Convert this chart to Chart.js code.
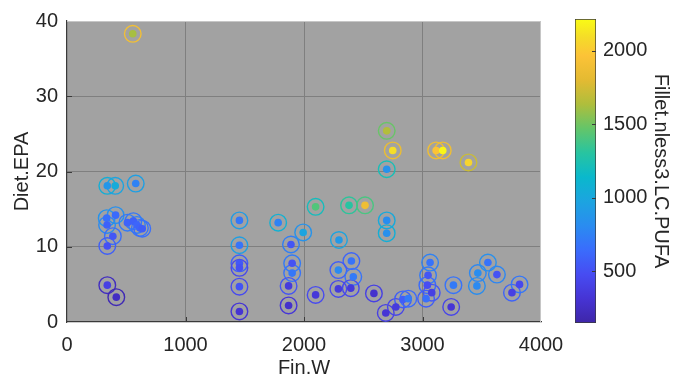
<!DOCTYPE html>
<html>
<head>
<meta charset="utf-8">
<script src="https://cdn.jsdelivr.net/npm/chart.js@4.4.1/dist/chart.umd.min.js"></script>
<style>
  html, body { margin: 0; padding: 0; background: #ffffff; }
  #wrap { position: relative; width: 686px; height: 390px; }
  #wrap canvas { position: absolute; left: 0; top: 0; }
</style>
</head>
<body>
<div id="wrap">
  <canvas id="main" width="686" height="390"></canvas>
  <canvas id="cbar" width="686" height="390"></canvas>
</div>
<script>
// Fish weight vs. dietary EPA; filled dot and ring are each coloured on the PUFA scale
const finW = [
  555,
  340, 407, 580,
  335, 338, 410, 387, 340, 340, 416,
  510, 560, 590, 615, 635,
  1455, 1455, 1455, 1455, 1455, 1455,
  1890, 1900, 1900, 1870, 1870,
  1782, 1993, 2098, 2098,
  2295, 2698, 2698, 2400, 2290, 2416, 2290, 2395, 2590, 2690, 2775, 2835, 2880,
  3064, 3047, 3041, 3078, 3030, 3242, 3261, 3459, 3467, 3552, 3628, 3755, 3819,
  2698, 2749, 2698, 3115, 3171, 3388, 2380, 2515
];
const dietEPA = [
  38.3,
  18.1, 18.1, 18.4,
  13.8, 12.9, 14.2, 11.4, 10.1, 4.9, 3.3,
  13.2, 13.4, 12.9, 12.5, 12.4,
  13.5, 10.2, 7.8, 7.2, 4.7, 1.4,
  10.3, 7.8, 6.5, 4.8, 2.2,
  13.2, 11.9, 15.3, 3.6,
  10.9, 11.8, 13.5, 8.1, 6.9, 6.0, 4.4, 4.5, 3.8, 1.2, 2.0, 3.0, 3.1,
  7.9, 6.2, 4.9, 3.9, 3.1, 2.0, 4.9, 4.8, 6.5, 7.9, 6.3, 3.9, 5.0,
  25.4, 22.8, 20.3, 22.8, 22.8, 21.2, 15.5, 15.5
];
// value behind each filled dot
const pufa = [
  1620,
  880, 1030, 760,
  660, 590, 640, 530, 500, 400, 250,
  600, 590, 610, 600, 570,
  700, 690, 540, 500, 520, 310,
  530, 510, 700, 360, 280,
  760, 980, 1420, 340,
  900, 840, 820, 680, 800, 720, 360, 350, 290, 320, 360, 570, 720,
  680, 530, 480, 400, 660, 320, 720, 800, 820, 680, 510, 400, 450,
  1650, 2100, 850, 1960, 2200, 2050, 1300, 1880
];
// value behind each surrounding ring
const ringLevel = [
  1900,
  1060, 980, 940,
  860, 800, 840, 660, 580, 240, 200,
  720, 700, 740, 680, 660,
  920, 940, 580, 450, 470, 320,
  740, 720, 680, 520, 330,
  1080, 860, 1200, 470,
  980, 1060, 1020, 610, 570, 680, 450, 450, 400, 400, 430, 580, 640,
  760, 720, 640, 530, 570, 430, 680, 820, 790, 840, 780, 600, 700,
  1480, 1850, 1220, 1880, 1880, 1720, 1320, 1400
];
const xTicks = [0, 1000, 2000, 3000, 4000];
const yTicks = [0, 10, 20, 30, 40];
const cbarTicks = [500, 1000, 1500, 2000];
const cMin = 150, cMax = 2215;

const FONT = 'Liberation Sans, Arial, Helvetica, sans-serif';
const TXT = '#262626';

// parula-style colour ramp
const parulaStops = [
  [0.00, 62, 38, 168],
  [0.08, 70, 52, 212],
  [0.16, 71, 76, 242],
  [0.24, 58, 108, 252],
  [0.32, 42, 140, 240],
  [0.40, 28, 164, 224],
  [0.48, 10, 184, 204],
  [0.56, 40, 196, 160],
  [0.64, 100, 197, 105],
  [0.72, 175, 190, 60],
  [0.80, 228, 186, 50],
  [0.88, 252, 195, 55],
  [0.94, 245, 220, 40],
  [1.00, 249, 251, 21]
];
function parula(v) {
  let t = (v - cMin) / (cMax - cMin);
  t = Math.max(0, Math.min(1, t));
  for (let i = 1; i < parulaStops.length; i++) {
    const a = parulaStops[i - 1], b = parulaStops[i];
    if (t <= b[0]) {
      const f = (t - a[0]) / (b[0] - a[0]);
      const c = [1, 2, 3].map(k => Math.round(a[k] + (b[k] - a[k]) * f));
      return `rgb(${c[0]},${c[1]},${c[2]})`;
    }
  }
  return 'rgb(249,251,21)';
}

const points = finW.map((x, i) => ({ x: x, y: dietEPA[i] }));
const plainNumber = v => String(v);

// grey plot box, light top/right frame and inward tick marks
const boxPlugin = {
  id: 'box',
  beforeDraw(chart) {
    const { ctx, chartArea: a } = chart;
    ctx.save();
    ctx.fillStyle = '#a2a2a2';
    ctx.fillRect(a.left, a.top, a.right - a.left, a.bottom - a.top);
    ctx.restore();
  },
  beforeDatasetsDraw(chart) {
    const { ctx, chartArea: a, scales } = chart;
    ctx.save();
    ctx.strokeStyle = '#c6c6c6';
    ctx.lineWidth = 1;
    ctx.beginPath();
    ctx.moveTo(a.left, a.top + 0.5); ctx.lineTo(a.right, a.top + 0.5);
    ctx.moveTo(a.right - 0.5, a.top); ctx.lineTo(a.right - 0.5, a.bottom);
    ctx.stroke();
    ctx.strokeStyle = '#3a3a3a';
    ctx.beginPath();
    xTicks.slice(1, -1).forEach(v => {
      const px = Math.round(scales.x.getPixelForValue(v)) + 0.5;
      ctx.moveTo(px, a.bottom); ctx.lineTo(px, a.bottom - 5);
    });
    yTicks.slice(1, -1).forEach(v => {
      const py = Math.round(scales.y.getPixelForValue(v)) + 0.5;
      ctx.moveTo(a.left, py); ctx.lineTo(a.left + 5, py);
    });
    ctx.stroke();
    ctx.restore();
  }
};

function gridColor(ctx, last) {
  const v = ctx.tick ? ctx.tick.value : null;
  if (v === 0) return 'rgba(0,0,0,0)';
  if (v === last) return 'rgba(0,0,0,0)';
  return '#7f7f7f';
}

new Chart(document.getElementById('main'), {
  type: 'scatter',
  data: {
    datasets: [
      {
        label: 'dot',
        data: points,
        pointRadius: 3.8,
        pointBorderWidth: 0,
        pointBackgroundColor: pufa.map(parula),
        pointBorderColor: 'rgba(0,0,0,0)'
      },
      {
        label: 'ring',
        data: points,
        pointRadius: 8.3,
        pointBorderWidth: 1.4,
        pointBackgroundColor: 'rgba(0,0,0,0)',
        pointBorderColor: ringLevel.map(parula)
      }
    ]
  },
  options: {
    responsive: false,
    animation: false,
    devicePixelRatio: 1,
    layout: { padding: { left: 0, top: 10, right: 145, bottom: 0 } },
    plugins: { legend: { display: false }, tooltip: { enabled: false } },
    scales: {
      x: {
        type: 'linear', min: 0, max: 4000,
        afterBuildTicks: s => { s.ticks = xTicks.map(v => ({ value: v })); },
        grid: { color: c => gridColor(c, 4000), lineWidth: 1, drawTicks: false },
        border: { color: '#3a3a3a', width: 1.2 },
        ticks: { font: { family: FONT, size: 20 }, color: TXT, padding: 11, maxRotation: 0, callback: plainNumber },
        title: { display: true, text: 'Fin.W', font: { family: FONT, size: 20 }, color: TXT, padding: { top: 0, bottom: 10 } },
        afterFit: s => { s.height = 68; }
      },
      y: {
        type: 'linear', min: 0, max: 40,
        afterBuildTicks: s => { s.ticks = yTicks.map(v => ({ value: v })); },
        grid: { color: c => gridColor(c, 40), lineWidth: 1, drawTicks: false },
        border: { color: '#3a3a3a', width: 1.2 },
        ticks: { font: { family: FONT, size: 20 }, color: TXT, padding: 9, callback: plainNumber },
        title: { display: true, text: 'Diet.EPA', font: { family: FONT, size: 20 }, color: TXT, padding: { top: 10, bottom: 0 } },
        afterFit: s => { s.width = 67; }
      }
    }
  },
  plugins: [boxPlugin]
});

// colour bar: one floating bar spanning the PUFA range, filled with the ramp
const cbarTickPlugin = {
  id: 'cbarTicks',
  afterDatasetsDraw(chart) {
    const { ctx, chartArea: a, scales } = chart;
    ctx.save();
    ctx.strokeStyle = '#3a3a3a';
    ctx.lineWidth = 1;
    ctx.beginPath();
    cbarTicks.forEach(v => {
      const py = Math.round(scales.y.getPixelForValue(v)) + 0.5;
      ctx.moveTo(a.right, py); ctx.lineTo(a.right - 4, py);
    });
    ctx.stroke();
    ctx.restore();
  }
};

new Chart(document.getElementById('cbar'), {
  type: 'bar',
  data: {
    labels: ['PUFA'],
    datasets: [{
      data: [[cMin, cMax]],
      backgroundColor: c => {
        const a = c.chart.chartArea;
        if (!a) return 'rgba(0,0,0,0)';
        const g = c.chart.ctx.createLinearGradient(0, a.bottom, 0, a.top);
        parulaStops.forEach(s => g.addColorStop(s[0], `rgb(${s[1]},${s[2]},${s[3]})`));
        return g;
      },
      borderColor: '#3a3a3a',
      borderWidth: 1,
      borderSkipped: false,
      barPercentage: 1,
      categoryPercentage: 1
    }]
  },
  options: {
    responsive: false,
    animation: false,
    devicePixelRatio: 1,
    layout: { padding: { left: 575, top: 10, right: 0, bottom: 67 } },
    plugins: { legend: { display: false }, tooltip: { enabled: false } },
    scales: {
      x: { display: false },
      y: {
        position: 'right', min: cMin, max: cMax,
        afterBuildTicks: s => { s.ticks = cbarTicks.map(v => ({ value: v })); },
        grid: { display: false, drawTicks: false },
        border: { display: false },
        ticks: { font: { family: FONT, size: 20 }, color: TXT, padding: 7, callback: plainNumber },
        title: { display: true, text: 'Fillet.nless3.LC.PUFA', font: { family: FONT, size: 20 }, color: TXT, padding: { top: 13, bottom: 0 } },
        afterFit: s => { s.width = 90; }
      }
    }
  },
  plugins: [cbarTickPlugin]
});
</script>
</body>
</html>
